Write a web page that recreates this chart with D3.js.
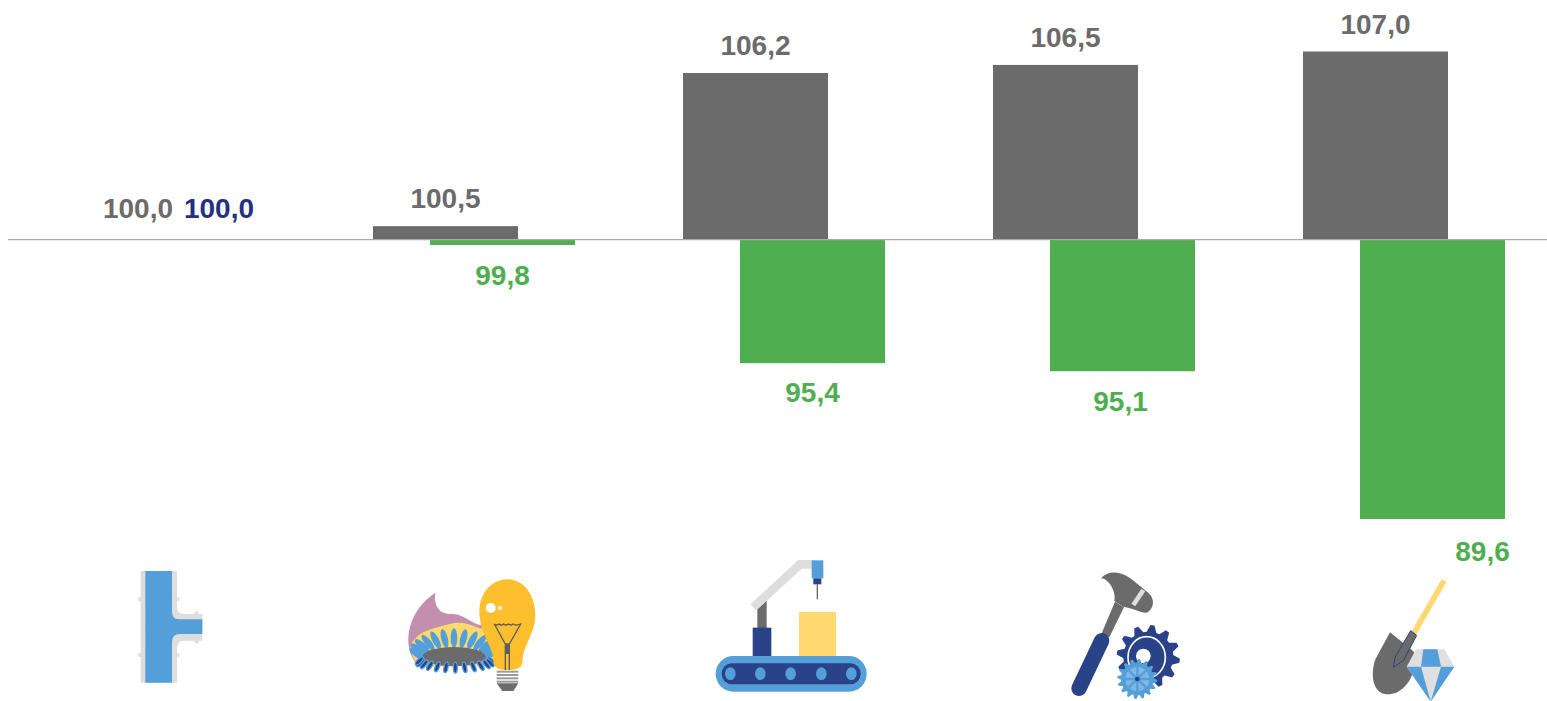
<!DOCTYPE html>
<html>
<head>
<meta charset="utf-8">
<style>
  html, body { margin: 0; padding: 0; background: #fff; overflow: hidden; }
  text { font-family: "Liberation Sans", Arial, sans-serif; font-weight: bold; font-size: 28px; }
</style>
</head>
<body>
<script src="https://cdn.jsdelivr.net/npm/d3@7"></script>
<script>
// icon order, left to right
const categories = ['pipe', 'energy', 'factory', 'tools', 'mining'];
const greyValues = [100.0, 100.5, 106.2, 106.5, 107.0];
const greenValues = [100.0, 99.8, 95.4, 95.1, 89.6];
const firstGroupLabel = [100.0];
const baseValue = 100;

const grey = '#6b6b6b', green = '#4fae50', navy = '#243082';
const blue = '#549fd9', dark = '#2a4288', light = '#dedede', yellow = '#ffd96f';

const width = 1547, height = 701;
const svg = d3.select('body').append('svg')
    .attr('width', width)
    .attr('height', height)
    .style('display', 'block');

const x = d3.scaleBand().domain(categories).range([8, 1558]);
const seriesX = d3.scalePoint().domain(['grey', 'green']).range([55, 112]);
const y = d3.scaleLinear().domain([89.6, 107]).range([519, 51.5]);
const barW = 145;
const fmt = v => v.toFixed(1).replace('.', ',');

function bars(values, name, color) {
    svg.append('g').selectAll('rect')
        .data(values)
        .enter().append('rect')
        .attr('x', (d, i) => x(categories[i]) + seriesX(name))
        .attr('y', d => Math.min(y(d), y(baseValue)))
        .attr('width', barW)
        .attr('height', d => Math.abs(y(d) - y(baseValue)))
        .style('fill', color);
}
bars(greyValues, 'grey', grey);
bars(greenValues, 'green', green);

svg.append('line')
    .attr('x1', 8).attr('x2', width)
    .attr('y1', y(baseValue)).attr('y2', y(baseValue))
    .style('stroke', '#a9a9a9')
    .style('stroke-width', 1.2);

// labels: first group has its own pair, the last green one sits off to the right
svg.append('g').selectAll('text')
    .data(greyValues)
    .enter().append('text')
    .attr('x', (d, i) => i === 0 ? x(categories[0]) + 130 : x(categories[i]) + seriesX('grey') + barW / 2)
    .attr('y', (d, i) => i === 0 ? y(d) - 22 : y(d) - 17.7)
    .attr('text-anchor', 'middle')
    .style('fill', grey)
    .text(fmt);

svg.append('text')
    .attr('x', x(categories[0]) + 211)
    .attr('y', y(firstGroupLabel[0]) - 22)
    .attr('text-anchor', 'middle')
    .style('fill', navy)
    .text(fmt(firstGroupLabel[0]));

const greenDx = [0, 0, 0, -2, 50];
const greenDy = [0, 40.3, 39.3, 39.3, 42.3];
svg.append('g').selectAll('text')
    .data(greenValues.slice(1))
    .enter().append('text')
    .attr('x', (d, i) => x(categories[i + 1]) + seriesX('green') + barW / 2 + greenDx[i + 1])
    .attr('y', (d, i) => y(d) + greenDy[i + 1])
    .attr('text-anchor', 'middle')
    .style('fill', green)
    .text(fmt);

// icons, coordinates are at 3x inside each group
function icon(cat, dx, top) {
    return svg.append('g')
        .attr('transform', 'translate(' + (x(cat) + dx) + ',' + top + ') scale(' + (1 / 3) + ')');
}
function path(g, d, fill) {
    return g.append('path').attr('d', d).style('fill', fill);
}
function gearPath(cx, cy, r, teeth, depth) {
    let pts = [];
    let n = teeth * 4;
    for (let i = 0; i < n; i++) {
        let a = (i + 0.5) / n * Math.PI * 2;
        let rr = (i % 4 === 0 || i % 4 === 1) ? r : r - depth;
        pts.push([cx + rr * Math.cos(a), cy + rr * Math.sin(a)]);
    }
    return 'M' + pts.join('L') + 'Z';
}

// pipe
let g = icon('pipe', 92, 550);
path(g, 'M122,63H231V170Q231,192 253,192H307V272H253Q231,272 231,295V398H122Z', light);
[[121, 148], [121, 315], [231, 148], [231, 315], [290, 191], [290, 273]].forEach(c => {
    g.append('circle').attr('cx', c[0]).attr('cy', c[1]).attr('r', 7).style('fill', light);
});
path(g, 'M136,63H216V185Q216,208 240,208H307V252H240Q216,252 216,275V398H136Z', blue);

// burner and bulb
g = icon('energy', -218, 550);
path(g, 'M1006,128C1000,170 1020,195 1060,192C1100,195 1120,228 1150,225L1165,280L945,335C905,280 925,180 1006,128Z', '#c48fae');
path(g, 'M932,290C945,245 1000,235 1050,222C1100,208 1130,240 1170,240L1185,345L960,352C945,335 934,315 932,290Z', '#fdd96e');
for (let i = 0; i <= 12; i++) {
    let a = Math.PI * (1 - i / 12);
    let cx = 1062 + 110 * Math.cos(a), cy = 312 - 48 * Math.sin(a);
    g.append('ellipse')
        .attr('cx', cx).attr('cy', cy).attr('rx', 10).attr('ry', 29)
        .attr('transform', 'rotate(' + (Math.cos(a) * 55) + ' ' + cx + ' ' + cy + ')')
        .style('fill', blue);
}
g.append('ellipse').attr('cx', 1062).attr('cy', 320).attr('rx', 95).attr('ry', 29).style('fill', grey);
for (let i = 0; i <= 12; i++) {
    let a = Math.PI * (i / 12);
    let cx = 1066 + 108 * Math.cos(a), cy = 333 + 20 * Math.sin(a);
    g.append('ellipse')
        .attr('cx', cx).attr('cy', cy).attr('rx', 6).attr('ry', 16)
        .attr('transform', 'rotate(' + (-Math.cos(a) * 45) + ' ' + cx + ' ' + cy + ')')
        .style('fill', dark).style('stroke', blue).style('stroke-width', 4);
}
path(g, 'M1222,88C1275,88 1306,140 1306,195C1306,250 1268,290 1268,330C1268,355 1250,360 1222,360C1195,360 1180,355 1180,330C1180,290 1138,250 1138,185C1138,130 1175,88 1222,88Z', '#fdbf2d');
g.append('circle').attr('cx', 1172).attr('cy', 174).attr('r', 15).style('fill', '#fff');
g.append('circle').attr('cx', 1200).attr('cy', 174).attr('r', 6).style('fill', '#fff');
g.append('path')
    .attr('d', 'M1183,222Q1190,228 1197,222Q1204,228 1211,222Q1218,228 1225,222Q1232,228 1239,222Q1246,228 1262,222L1228,282H1216ZM1216,282V360M1228,282V360')
    .style('fill', 'none').style('stroke', '#5f5f5f').style('stroke-width', 4);
g.append('rect').attr('x', 1216).attr('y', 282).attr('width', 12).attr('height', 30).style('fill', '#5f5f5f');
for (let i = 0; i < 4; i++) {
    g.append('rect').attr('x', 1190).attr('y', 362 + i * 10).attr('width', 65).attr('height', 6).style('fill', '#9a9a9a');
}
path(g, 'M1190,400H1255L1240,423H1207Z', grey);

// conveyor
g = icon('factory', 72, 550);
g.append('rect').attr('x', 47).attr('y', 318).attr('width', 453).attr('height', 107).attr('rx', 53).style('fill', blue);
g.append('rect').attr('x', 65).attr('y', 340).attr('width', 417).attr('height', 63).attr('rx', 31).style('fill', dark);
[91, 181, 272, 364, 454].forEach(cx => {
    g.append('ellipse').attr('cx', cx).attr('cy', 371).attr('rx', 16).attr('ry', 19).style('fill', blue);
});
g.append('rect').attr('x', 172).attr('y', 150).attr('width', 28).attr('height', 85).style('fill', grey);
g.append('rect').attr('x', 158).attr('y', 233).attr('width', 56).attr('height', 85).style('fill', dark);
g.append('path').attr('d', 'M160,172L300,43H340')
    .style('fill', 'none').style('stroke', light).style('stroke-width', 26);
g.append('rect').attr('x', 335).attr('y', 31).attr('width', 35).attr('height', 54).style('fill', blue);
g.append('rect').attr('x', 340).attr('y', 85).attr('width', 24).attr('height', 18).style('fill', dark);
g.append('rect').attr('x', 350).attr('y', 103).attr('width', 4).attr('height', 45).style('fill', grey);
g.append('rect').attr('x', 297).attr('y', 186).attr('width', 111).attr('height', 132).style('fill', yellow);

// hammer and gears
g = icon('tools', -238, 550);
path(g, 'M1245,155L1272,172L1228,262L1205,250Z', grey);
g.append('line').attr('x1', 1205).attr('y1', 272).attr('x2', 1137).attr('y2', 415)
    .style('stroke', dark).style('stroke-width', 46).style('stroke-linecap', 'round');
path(g, 'M1203,85C1225,58 1265,65 1295,88L1345,128C1368,150 1360,178 1340,188C1325,190 1300,175 1270,170L1243,153C1250,125 1225,85 1203,85Z', grey);
g.append('line').attr('x1', 1330).attr('y1', 120).attr('x2', 1300).attr('y2', 165)
    .style('stroke', light).style('stroke-width', 14);
path(g, gearPath(1345, 320, 95, 12, 20), dark);
g.append('ellipse').attr('cx', 1340).attr('cy', 322).attr('rx', 56).attr('ry', 62)
    .style('fill', 'none').style('stroke', '#fff').style('stroke-width', 5);
g.append('circle').attr('cx', 1330).attr('cy', 318).attr('r', 22).style('fill', '#fff');
path(g, gearPath(1312, 387, 60, 16, 11), blue);
g.append('circle').attr('cx', 1312).attr('cy', 387).attr('r', 40).style('fill', '#fff').style('fill-opacity', 0.25);
g.append('circle').attr('cx', 1312).attr('cy', 387).attr('r', 40).style('fill', 'none').style('stroke', blue).style('stroke-width', 8);
for (let i = 0; i < 4; i++) {
    let a = i * Math.PI / 4;
    g.append('line')
        .attr('x1', 1312 - 40 * Math.cos(a)).attr('y1', 387 - 40 * Math.sin(a))
        .attr('x2', 1312 + 40 * Math.cos(a)).attr('y2', 387 + 40 * Math.sin(a))
        .style('stroke', blue).style('stroke-width', 7);
}
g.append('circle').attr('cx', 1312).attr('cy', 387).attr('r', 7).style('fill', dark);

// shovel and diamond
g = icon('mining', 92, 560);
g.append('line').attr('x1', 220).attr('y1', 222).attr('x2', 312).attr('y2', 62)
    .style('stroke', yellow).style('stroke-width', 17);
path(g, 'M150,217L222,275L222,330C210,370 180,405 140,403C100,400 90,350 105,300Z', grey);
g.append('path').attr('d', 'M212,212L230,226L190,302L160,322L165,292Z')
    .style('fill', grey).style('stroke', dark).style('stroke-width', 3);
path(g, 'M228,268H313L343,320L272,425L200,320Z', '#dfdfdf');
path(g, 'M250,268H292L303,320H243Z', blue);
path(g, 'M200,320H243L272,425Z', blue);
path(g, 'M303,320H343L272,425Z', blue);
</script>
</body>
</html>
